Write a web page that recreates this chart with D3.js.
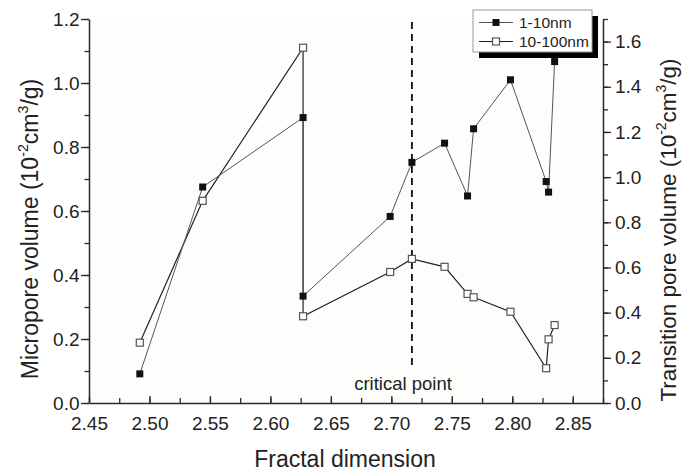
<!DOCTYPE html>
<html><head><meta charset="utf-8">
<script src="https://cdn.jsdelivr.net/npm/d3@7"></script>
<style>
html,body{margin:0;padding:0;background:#fff;}
svg{display:block;}
text{font-family:"Liberation Sans",Arial,sans-serif;}
</style></head>
<body>
<svg id="c" width="684" height="474"></svg>
<script>
// Data
const fractalDim = [2.492, 2.544, 2.627, 2.627, 2.699, 2.717, 2.744, 2.763, 2.768, 2.7985, 2.828, 2.830, 2.835];
const micropore  = [0.091, 0.675, 0.892, 0.334, 0.583, 0.752, 0.812, 0.647, 0.857, 1.010, 0.692, 0.659, 1.067];
const transition = [0.267, 0.895, 1.573, 0.384, 0.580, 0.638, 0.603, 0.483, 0.468, 0.404, 0.154, 0.282, 0.345];
const xTicks = [2.45, 2.50, 2.55, 2.60, 2.65, 2.70, 2.75, 2.80, 2.85];
const yLTicks = [0.0, 0.2, 0.4, 0.6, 0.8, 1.0, 1.2];
const yRTicks = [0.0, 0.2, 0.4, 0.6, 0.8, 1.0, 1.2, 1.4, 1.6];
const criticalPoint = 2.717;
const seriesNames = ["1-10nm", "10-100nm"];

const svg = d3.select("#c");
const L = 89, R = 603, T = 19, B = 403;
const x = d3.scaleLinear().domain([2.45, 2.875]).range([L, R]);
const yL = d3.scaleLinear().domain([0, 1.2]).range([B, T]);
const yR = d3.scaleLinear().domain([0, 1.7]).range([B, T]);
const axisColor = "#2a2a2a";

// plot background
svg.append("rect").attr("x", L).attr("y", T).attr("width", R - L).attr("height", B - T).attr("fill", "#fdfdfb");

function styleAxis(g) {
  g.selectAll(".domain").attr("stroke", axisColor).attr("stroke-width", 1.5);
  g.selectAll(".tick line").attr("stroke", axisColor).attr("stroke-width", 1.3);
  g.selectAll("text").attr("fill", "#222").style("font-size", "19px").attr("font-family", null);
}

// minor ticks
const xMinor = d3.range(2.45, 2.8751, 0.025);
const yLMinor = d3.range(0, 1.2001, 0.1);
const yRMinor = d3.range(0, 1.7001, 0.1);

const gxm = svg.append("g").attr("transform", `translate(0,${B})`)
  .call(d3.axisBottom(x).tickValues(xMinor).tickSize(-5).tickFormat(""));
gxm.select(".domain").remove();
gxm.selectAll("line").attr("stroke", axisColor).attr("stroke-width", 1.3);

const gym = svg.append("g").attr("transform", `translate(${L},0)`)
  .call(d3.axisLeft(yL).tickValues(yLMinor).tickSize(4.5).tickFormat(""));
gym.select(".domain").remove();
gym.selectAll("line").attr("stroke", axisColor).attr("stroke-width", 1.3);

const gyrm = svg.append("g").attr("transform", `translate(${R},0)`)
  .call(d3.axisRight(yR).tickValues(yRMinor).tickSize(5).tickFormat(""));
gyrm.select(".domain").remove();
gyrm.selectAll("line").attr("stroke", axisColor).attr("stroke-width", 1.3);

// major axes
const gx = svg.append("g").attr("transform", `translate(0,${B})`)
  .call(d3.axisBottom(x).tickValues(xTicks).tickSize(-7).tickSizeOuter(0).tickPadding(14).tickFormat(d3.format(".2f")));
styleAxis(gx);

const gy = svg.append("g").attr("transform", `translate(${L},0)`)
  .call(d3.axisLeft(yL).tickValues(yLTicks).tickSize(8).tickSizeOuter(0).tickPadding(1.5).tickFormat(d3.format(".1f")));
styleAxis(gy);

const gyr = svg.append("g").attr("transform", `translate(${R},0)`)
  .call(d3.axisRight(yR).tickValues(yRTicks).tickSize(8).tickSizeOuter(0).tickPadding(4).tickFormat(d3.format(".1f")));
styleAxis(gyr);

// axis titles
svg.append("text").attr("x", 345).attr("y", 467).attr("text-anchor", "middle")
  .style("font-size", "23px").attr("fill", "#222").text("Fractal dimension");

function volTitle(tx, ty, label, fs) {
  const sup = fs * 0.45;
  const t = svg.append("text").attr("transform", `translate(${tx},${ty}) rotate(-90)`)
    .attr("text-anchor", "middle").style("font-size", fs + "px").attr("fill", "#222");
  t.append("tspan").text(label + " (10");
  t.append("tspan").attr("dy", -sup).style("font-size", (fs * 0.62) + "px").text("-2");
  t.append("tspan").attr("dy", sup).text("cm");
  t.append("tspan").attr("dy", -sup).style("font-size", (fs * 0.62) + "px").text("3");
  t.append("tspan").attr("dy", sup).text("/g)");
}
volTitle(38, 229, "Micropore volume", 23);
volTitle(676, 230, "Transition pore volume", 22.5);

// critical point dashed line
svg.append("line").attr("x1", x(criticalPoint)).attr("x2", x(criticalPoint))
  .attr("y1", 22).attr("y2", 366).attr("stroke", "#111").attr("stroke-width", 1.8)
  .attr("stroke-dasharray", "7,5");
svg.append("text").attr("x", 403).attr("y", 390).attr("text-anchor", "middle")
  .style("font-size", "18.5px").attr("fill", "#222").text("critical point");

// series lines
const lineL = d3.line().x((d, i) => x(fractalDim[i])).y(d => yL(d));
const lineR = d3.line().x((d, i) => x(fractalDim[i])).y(d => yR(d));
svg.append("path").attr("d", lineR(transition)).attr("fill", "none").attr("stroke", "#222").attr("stroke-width", 1.2);
svg.append("path").attr("d", lineL(micropore)).attr("fill", "none").attr("stroke", "#555").attr("stroke-width", 1);

// markers
const ms = 7;
svg.append("g").selectAll("rect").data(transition).join("rect")
  .attr("x", (d, i) => x(fractalDim[i]) - ms / 2).attr("y", d => yR(d) - ms / 2)
  .attr("width", ms).attr("height", ms).attr("fill", "#fff").attr("stroke", "#555").attr("stroke-width", 1.2);
svg.append("g").selectAll("rect").data(micropore).join("rect")
  .attr("x", (d, i) => x(fractalDim[i]) - ms / 2).attr("y", d => yL(d) - ms / 2)
  .attr("width", ms).attr("height", ms).attr("fill", "#111");

// legend
const lg = svg.append("g");
lg.append("rect").attr("x", 479).attr("y", 16).attr("width", 119).attr("height", 42).attr("fill", "#000");
lg.append("rect").attr("x", 473).attr("y", 10).attr("width", 119).attr("height", 42).attr("fill", "#fff").attr("stroke", "#999").attr("stroke-width", 1);
seriesNames.forEach((name, i) => {
  const yy = 22.5 + i * 19;
  lg.append("line").attr("x1", 479).attr("x2", 513).attr("y1", yy).attr("y2", yy)
    .attr("stroke", i === 0 ? "#555" : "#222").attr("stroke-width", 1);
  lg.append("rect").attr("x", 496 - 3.5).attr("y", yy - 3.5).attr("width", 7).attr("height", 7)
    .attr("fill", i === 0 ? "#111" : "#fff").attr("stroke", i === 0 ? "none" : "#555").attr("stroke-width", 1.2);
  lg.append("text").attr("x", 519).attr("y", yy).attr("dy", "0.36em")
    .style("font-size", "15.5px").attr("fill", "#222").text(name);
});
</script>
</body></html>
